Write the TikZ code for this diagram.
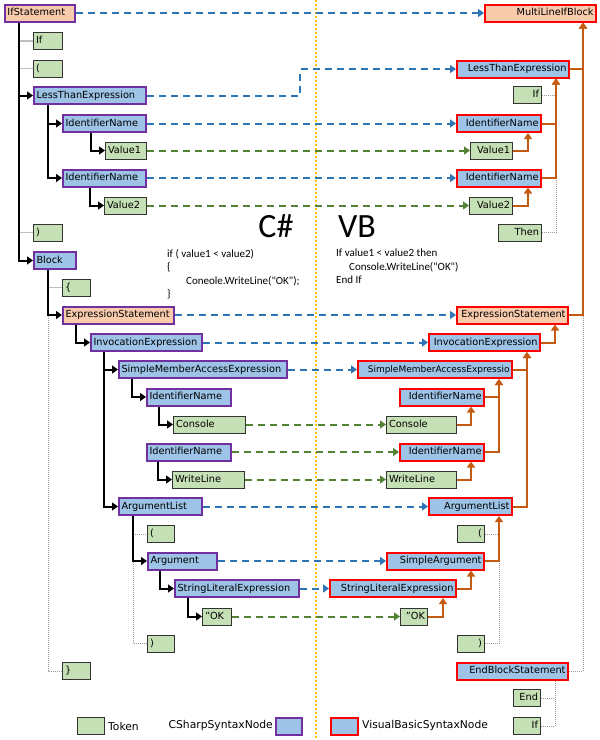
\documentclass[tikz,border=0pt]{standalone}
\usepackage{fontspec}
\setmainfont{DejaVu Sans}
\newfontfamily\codefont{Carlito}
\usetikzlibrary{arrows.meta}
\definecolor{cspurple}{RGB}{112,48,160}
\definecolor{vbred}{RGB}{255,0,0}
\definecolor{nodeblue}{RGB}{157,195,230}
\definecolor{stmtorange}{RGB}{248,203,173}
\definecolor{tokgreen}{RGB}{197,224,180}
\definecolor{vborange}{RGB}{197,90,17}
\definecolor{mapblue}{RGB}{46,117,182}
\definecolor{mapgreen}{RGB}{84,130,53}
\definecolor{midyellow}{RGB}{255,192,0}
\hyphenpenalty=10000
\begin{document}
\begin{tikzpicture}[x=1pt,y=-1pt,
	box/.style={font=\fontsize{9.75}{11}\selectfont,text height=7.5pt,text depth=2pt,
		inner xsep=2.5pt,inner ysep=0pt,minimum height=17pt},
	csnode/.style={box,draw=cspurple,line width=2pt,fill=nodeblue,align=left},
	vbnode/.style={box,draw=vbred,line width=2pt,fill=nodeblue,align=right},
	cstok/.style={box,draw=black!80,line width=1pt,fill=tokgreen,align=left},
	vbtok/.style={box,draw=black!80,line width=1pt,fill=tokgreen,align=right},
	cstree/.style={black,line width=2pt,-{Triangle[length=6pt,width=8pt]}},
	vbtree/.style={vborange,line width=2pt,-{Triangle[length=6pt,width=8pt]}},
	tokline/.style={black!25,line width=1.5pt},
	tokdots/.style={black!40,line width=1pt,densely dotted},
	mapnode/.style={mapblue,line width=2pt,dash pattern=on 7pt off 5pt,-{Triangle[length=6pt,width=8pt]}},
	maptok/.style={mapnode,mapgreen},
	code/.style={font=\codefont\fontsize{11}{13}\selectfont,inner sep=0pt,anchor=base west},
	legend/.style={font=\fontsize{10.75}{12}\selectfont,inner sep=0pt}]
	\useasboundingbox (0,0) rectangle (600,740);
	\draw[midyellow,line width=1.5pt,dash pattern=on 2pt off 2pt] (316,0) -- (316,740);

	\node[csnode,fill=stmtorange,text width=65pt] (ifsL) at (40,13) {IfStatement};
	\node[cstok,text width=24pt] (ifTok) at (48,41) {If};
	\node[cstok,text width=24pt] (lpTok) at (48,68.5) {(};
	\node[csnode,text width=107pt] (lteL) at (90,95.5) {LessThanExpression};
	\node[csnode,text width=78pt] (in1L) at (104.5,123.5) {IdentifierName};
	\node[cstok,text width=36pt] (v1L) at (126,150.5) {Value1};
	\node[csnode,text width=78pt] (in2L) at (104.5,178) {IdentifierName};
	\node[cstok,text width=37pt] (v2L) at (125.5,205.5) {Value2};
	\node[cstok,text width=24pt] (rpTok) at (48,232.5) {)};
	\node[csnode,text width=37pt] (blockL) at (55,260.5) {Block};
	\node[cstok,text width=23pt] (lbTok) at (76.5,287.5) {\{};
	\node[csnode,fill=stmtorange,text width=106pt] (esL) at (118.5,315) {ExpressionStatement};
	\node[csnode,text width=106pt] (ieL) at (146.5,342.5) {InvocationExpression};
	\node[csnode,text width=163pt] (smaeL) at (203,369.5) {SimpleMemberAccessExpression};
	\node[csnode,text width=79pt] (in3L) at (189,397) {IdentifierName};
	\node[cstok,text width=67pt] (conL) at (209.5,424.5) {Console};
	\node[csnode,text width=79pt] (in4L) at (189,452) {IdentifierName};
	\node[cstok,text width=67pt] (wlL) at (208.5,479.5) {WriteLine};
	\node[csnode,text width=78pt] (alL) at (160.5,506.5) {ArgumentList};
	\node[cstok,text width=22pt] (lp2) at (161,534) {(};
	\node[csnode,text width=64pt] (argL) at (182.5,561) {Argument};
	\node[csnode,text width=119pt] (sleL) at (237,588.5) {StringLiteralExpression};
	\node[cstok,text width=24pt] (okL) at (217,616.5) {"OK};
	\node[cstok,text width=22pt] (rp2) at (161,643.5) {)};
	\node[cstok,text width=23pt] (rbTok) at (76.5,671) {\}};

	\node[vbnode,fill=stmtorange,text width=106pt] (mlib) at (540.5,13) {MultiLineIfBlock};
	\node[vbnode,text width=107pt] (lteR) at (513,69) {LessThanExpression};
	\node[vbtok,text width=23pt] (ifR) at (527.5,95) {If};
	\node[vbnode,text width=79pt] (in1R) at (499,123.5) {IdentifierName};
	\node[vbtok,text width=37pt] (v1R) at (491.5,150.5) {Value1};
	\node[vbnode,text width=79pt] (in2R) at (499,178) {IdentifierName};
	\node[vbtok,text width=38pt] (v2R) at (491,205.5) {Value2};
	\node[vbtok,text width=38pt] (thenR) at (520,232.5) {Then};
	\node[vbnode,fill=stmtorange,text width=106pt] (esR) at (512.5,315) {ExpressionStatement};
	\node[vbnode,text width=106pt] (ieR) at (484.5,342.5) {InvocationExpression};
	\node[vbnode,text width=149pt,font=\fontsize{9}{10}\selectfont] (smaeR) at (435,369.5) {SimpleMemberAccessExpressio};
	\node[vbnode,text width=79pt] (in3R) at (442,397) {IdentifierName};
	\node[vbtok,align=left,text width=65pt] (conR) at (421.5,424.5) {Console};
	\node[vbnode,text width=79pt] (in4R) at (442,452) {IdentifierName};
	\node[vbtok,align=left,text width=65pt] (wlR) at (421.5,479.5) {WriteLine};
	\node[vbnode,text width=78pt] (alR) at (470.5,506.5) {ArgumentList};
	\node[vbtok,text width=22pt] (lp2R) at (471,534) {(};
	\node[vbnode,text width=92pt] (saR) at (435.5,561) {SimpleArgument};
	\node[vbnode,text width=121pt] (sleR) at (393,588.5) {StringLiteralExpression};
	\node[vbtok,text width=22pt] (okR) at (414,616.5) {"OK};
	\node[vbtok,text width=22pt] (rp2R) at (471,643.5) {)};
	\node[vbnode,text width=106pt] (ebsR) at (512.5,671) {EndBlockStatement};
	\node[vbtok,text width=22pt] (endR) at (527,698) {End};
	\node[vbtok,text width=22pt] (if2R) at (527,726) {If};

	\node[font=\codefont\fontsize{34}{40}\selectfont,inner sep=0pt,anchor=base] (cstitle) at (276,237) {C\#};
	\node[font=\codefont\fontsize{34}{40}\selectfont,inner sep=0pt,anchor=base] (vbtitle) at (357,237) {VB};
	\node[code] (cs1) at (167,257) {if ( value1 < value2)};
	\node[code] (cs2) at (167,270) {\{};
	\node[code] (cs3) at (186,284) {Coneole.WriteLine("OK");};
	\node[code] (cs4) at (167,297) {\}};
	\node[code] (vb1) at (336,256) {If value1 < value2 then};
	\node[code] (vb2) at (349,270) {Console.WriteLine("OK")};
	\node[code] (vb3) at (336,283) {End If};

	\node[cstok,text width=22pt] (legTok) at (91,726) {};
	\node[legend,anchor=west] (legTokText) at (108,726) {Token};
	\node[legend,anchor=east] (legCsText) at (273,726) {CSharpSyntaxNode};
	\node[csnode,text width=21pt] (legCs) at (289,726) {};
	\node[vbnode,text width=22pt] (legVb) at (344.5,726) {};
	\node[legend,anchor=west] (legVbText) at (362,726) {VisualBasicSyntaxNode};

	\draw[tokline] ([xshift=-14pt]ifTok.west |- ifsL.south) |- (ifTok.west);
	\draw[tokline] ([xshift=-14pt]lpTok.west |- ifsL.south) |- (lpTok.west);
	\draw[tokline] ([xshift=-14pt]rpTok.west |- ifsL.south) |- (rpTok.west);
	\draw[tokline] ([xshift=-14pt]lbTok.west |- blockL.south) |- (lbTok.west);
	\draw[tokdots] ([xshift=-14pt]rbTok.west |- blockL.south) |- (rbTok.west);
	\draw[tokdots] ([xshift=-14pt]lp2.west |- alL.south) |- (lp2.west);
	\draw[tokdots] ([xshift=-14pt]rp2.west |- alL.south) |- (rp2.west);
	\draw[cstree] ([xshift=-14pt]lteL.west |- ifsL.south) |- (lteL.west);
	\draw[cstree] ([xshift=-14pt]blockL.west |- ifsL.south) |- (blockL.west);
	\draw[cstree] ([xshift=-14pt]in1L.west |- lteL.south) |- (in1L.west);
	\draw[cstree] ([xshift=-14pt]in2L.west |- lteL.south) |- (in2L.west);
	\draw[cstree] ([xshift=-14pt]v1L.west |- in1L.south) |- (v1L.west);
	\draw[cstree] ([xshift=-14pt]v2L.west |- in2L.south) |- (v2L.west);
	\draw[cstree] ([xshift=-14pt]esL.west |- blockL.south) |- (esL.west);
	\draw[cstree] ([xshift=-14pt]ieL.west |- esL.south) |- (ieL.west);
	\draw[cstree] ([xshift=-14pt]smaeL.west |- ieL.south) |- (smaeL.west);
	\draw[cstree] ([xshift=-14pt]alL.west |- ieL.south) |- (alL.west);
	\draw[cstree] ([xshift=-14pt]in3L.west |- smaeL.south) |- (in3L.west);
	\draw[cstree] ([xshift=-14pt]conL.west |- in3L.south) |- (conL.west);
	\draw[cstree] ([xshift=-14pt]wlL.west |- in4L.south) |- (wlL.west);
	\draw[cstree] ([xshift=-14pt]argL.west |- alL.south) |- (argL.west);
	\draw[cstree] ([xshift=-14pt]sleL.west |- argL.south) |- (sleL.west);
	\draw[cstree] ([xshift=-14pt]okL.west |- sleL.south) |- (okL.west);

	\draw[tokdots] (ifR.east) -| ([xshift=-14pt]lteR.south east);
	\draw[tokdots] (thenR.east) -| ([xshift=-14pt]lteR.south east);
	\draw[tokdots] (ebsR.east) -| ([xshift=-14pt]mlib.south east);
	\draw[tokdots] (lp2R.east) -| ([xshift=-14pt]alR.south east);
	\draw[tokdots] (rp2R.east) -| ([xshift=-14pt]alR.south east);
	\draw[tokdots] (endR.east) -| ([xshift=-14pt]ebsR.south east);
	\draw[tokdots] (if2R.east) -| ([xshift=-14pt]ebsR.south east);
	\draw[vbtree] (lteR.east) -| ([xshift=-14pt]mlib.south east);
	\draw[vbtree] (esR.east) -| ([xshift=-14pt]mlib.south east);
	\draw[vbtree] (in1R.east) -| ([xshift=-14pt]lteR.south east);
	\draw[vbtree] (in2R.east) -| ([xshift=-14pt]lteR.south east);
	\draw[vbtree] (v1R.east) -| ([xshift=-14pt]in1R.south east);
	\draw[vbtree] (v2R.east) -| ([xshift=-14pt]in2R.south east);
	\draw[vbtree] (ieR.east) -| ([xshift=-14pt]esR.south east);
	\draw[vbtree] (smaeR.east) -| ([xshift=-14pt]ieR.south east);
	\draw[vbtree] (alR.east) -| ([xshift=-14pt]ieR.south east);
	\draw[vbtree] (in3R.east) -| ([xshift=-14pt]smaeR.south east);
	\draw[vbtree] (in4R.east) -| ([xshift=-14pt]smaeR.south east);
	\draw[vbtree] (conR.east) -| ([xshift=-14pt]in3R.south east);
	\draw[vbtree] (wlR.east) -| ([xshift=-14pt]in4R.south east);
	\draw[vbtree] (saR.east) -| ([xshift=-14pt]alR.south east);
	\draw[vbtree] (sleR.east) -| ([xshift=-14pt]saR.south east);
	\draw[vbtree] (okR.east) -| ([xshift=-14pt]sleR.south east);

	\coordinate (bend) at (300,80);
	\draw[mapnode] (ifsL.east) -- (mlib.west);
	\draw[mapnode] (lteL.east) -| (bend) |- (lteR.west);
	\draw[mapnode] (in1L.east) -- (in1R.west);
	\draw[maptok] (v1L.east) -- (v1R.west);
	\draw[mapnode] (in2L.east) -- (in2R.west);
	\draw[maptok] (v2L.east) -- (v2R.west);
	\draw[mapnode] (esL.east) -- (esR.west);
	\draw[mapnode] (ieL.east) -- (ieR.west);
	\draw[mapnode] (smaeL.east) -- (smaeR.west);
	\draw[maptok] (conL.east) -- (conR.west);
	\draw[maptok] (in4L.east) -- (in4R.west);
	\draw[maptok] (wlL.east) -- (wlR.west);
	\draw[mapnode] (alL.east) -- (alR.west);
	\draw[mapnode] (argL.east) -- (saR.west);
	\draw[mapnode] (sleL.east) -- (sleR.west);
	\draw[maptok] (okL.east) -- (okR.west);
\end{tikzpicture}
\end{document}
